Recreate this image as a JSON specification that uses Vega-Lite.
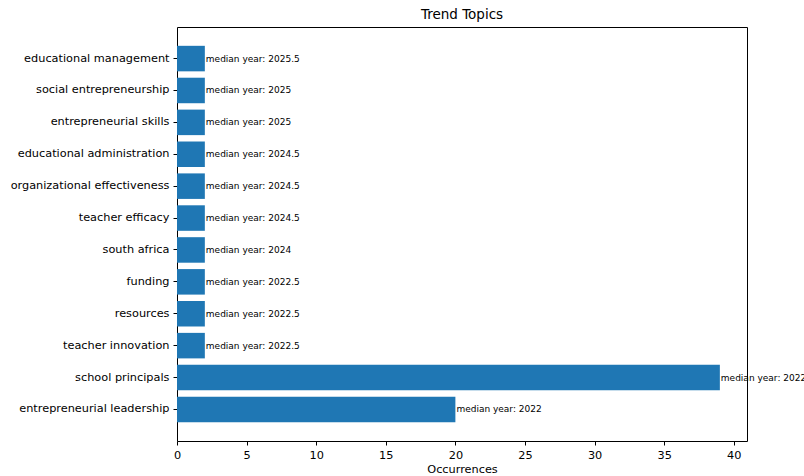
{
  "$schema": "https://vega.github.io/schema/vega-lite/v6.json",
  "width": 570,
  "height": 414,
  "autosize": {"type": "none"},
  "padding": {"left": 177, "top": 27, "right": 57, "bottom": 35},
  "background": "white",
  "config": {
    "font": "DejaVu Sans",
    "view": {"stroke": "#000000", "strokeWidth": 1},
    "axis": {
      "domain": false,
      "grid": false,
      "tickColor": "#000000",
      "tickSize": 4,
      "labelColor": "#000000",
      "labelFontSize": 11.3,
      "labelPadding": 4,
      "labelFlush": false,
      "titleColor": "#000000",
      "titleFontSize": 11.3,
      "titleFontWeight": "normal"
    }
  },
  "title": {
    "text": "Trend Topics",
    "fontSize": 13.5,
    "fontWeight": "normal",
    "color": "#000000",
    "offset": 6,
    "anchor": "middle"
  },
  "data": {
    "values": [
      {"topic": "entrepreneurial leadership", "occurrences": 20, "median_year": 2022, "rank": 0},
      {"topic": "school principals", "occurrences": 39, "median_year": 2022, "rank": 1},
      {"topic": "teacher innovation", "occurrences": 2, "median_year": 2022.5, "rank": 2},
      {"topic": "resources", "occurrences": 2, "median_year": 2022.5, "rank": 3},
      {"topic": "funding", "occurrences": 2, "median_year": 2022.5, "rank": 4},
      {"topic": "south africa", "occurrences": 2, "median_year": 2024, "rank": 5},
      {"topic": "teacher efficacy", "occurrences": 2, "median_year": 2024.5, "rank": 6},
      {"topic": "organizational effectiveness", "occurrences": 2, "median_year": 2024.5, "rank": 7},
      {"topic": "educational administration", "occurrences": 2, "median_year": 2024.5, "rank": 8},
      {"topic": "entrepreneurial skills", "occurrences": 2, "median_year": 2025, "rank": 9},
      {"topic": "social entrepreneurship", "occurrences": 2, "median_year": 2025, "rank": 10},
      {"topic": "educational management", "occurrences": 2, "median_year": 2025.5, "rank": 11}
    ]
  },
  "transform": [
    {"calculate": "'median year: ' + datum.median_year", "as": "label"}
  ],
  "encoding": {
    "y": {
      "field": "topic",
      "type": "nominal",
      "sort": {"field": "rank", "order": "descending"},
      "scale": {"paddingInner": 0.2, "paddingOuter": 0.59},
      "axis": {"title": null}
    },
    "x": {
      "field": "occurrences",
      "type": "quantitative",
      "scale": {"domain": [0, 40.95], "nice": false, "zero": true},
      "axis": {"title": "Occurrences", "values": [0, 5, 10, 15, 20, 25, 30, 35, 40], "titlePadding": 3}
    }
  },
  "layer": [
    {"mark": {"type": "bar", "color": "#1f77b4"}},
    {
      "mark": {"type": "text", "align": "left", "baseline": "middle", "dx": 1, "fontSize": 9, "color": "#000000", "clip": false},
      "encoding": {"text": {"field": "label"}}
    }
  ]
}
